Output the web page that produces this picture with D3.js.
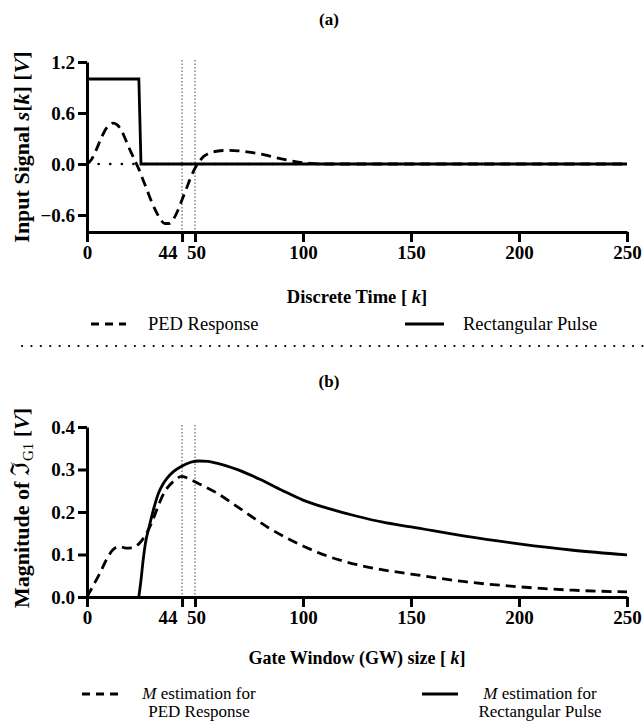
<!DOCTYPE html>
<html>
<head>
<meta charset="utf-8">
<script src="https://cdn.jsdelivr.net/npm/d3@7"></script>
<style>
  html, body { margin: 0; padding: 0; background: #fff; }
  svg { display: block; font-family: "Liberation Serif"; }
  svg text { font-family: "Liberation Serif"; }
</style>
</head>
<body>
<svg id="chart" width="644" height="723"></svg>
<script>
// ---------- data ----------
const xTicks = [0, 44, 50, 100, 150, 200, 250];
const yTicksA = [-0.6, 0.0, 0.6, 1.2];
const yTicksB = [0.0, 0.1, 0.2, 0.3, 0.4];
const markers = [44, 50];

// Panel (a): PED response
const pedK = [0, 2, 4, 6, 8, 10, 12, 14, 16, 18, 20, 22, 24, 26, 28, 30, 32, 34, 36, 38, 40, 42, 44, 46, 48, 50, 52, 54, 56, 60, 65, 70, 75, 80, 85, 90, 95, 100, 105, 110, 250];
const pedV = [0, 0.05, 0.15, 0.27, 0.38, 0.45, 0.48, 0.46, 0.39, 0.28, 0.16, 0.05, -0.06, -0.19, -0.32, -0.45, -0.56, -0.65, -0.70, -0.70, -0.65, -0.55, -0.42, -0.29, -0.16, -0.05, 0.03, 0.09, 0.12, 0.15, 0.16, 0.155, 0.14, 0.12, 0.09, 0.06, 0.035, 0.015, 0.005, 0, 0];
// Panel (a): rectangular pulse
const rectK = [0, 24, 25, 250];
const rectV = [1.0, 1.0, 0.0, 0.0];

// Panel (b): M estimation for PED response
const mPedK = [0, 3, 6, 9, 12, 15, 18, 21, 24, 27, 30, 33, 36, 40, 44, 48, 52, 60, 68, 76, 84, 92, 100, 112, 125, 137, 150, 175, 200, 225, 250];
const mPedV = [0, 0.028, 0.056, 0.088, 0.111, 0.119, 0.115, 0.116, 0.125, 0.145, 0.175, 0.215, 0.248, 0.272, 0.284, 0.276, 0.266, 0.245, 0.218, 0.19, 0.163, 0.14, 0.12, 0.095, 0.076, 0.064, 0.054, 0.036, 0.024, 0.016, 0.012];
// Panel (b): M estimation for rectangular pulse
const mRectK = [24, 25, 26, 27, 29, 31, 33, 35, 37, 40, 44, 48, 52, 56, 60, 70, 80, 90, 100, 112, 125, 137, 150, 175, 200, 225, 250];
const mRectV = [0, 0.04, 0.087, 0.125, 0.17, 0.21, 0.243, 0.264, 0.279, 0.295, 0.308, 0.317, 0.32, 0.319, 0.315, 0.299, 0.277, 0.252, 0.228, 0.208, 0.19, 0.176, 0.165, 0.143, 0.125, 0.11, 0.099];

// ---------- layout ----------
const FONT = "Liberation Serif";
const svg = d3.select("#chart").attr("font-family", FONT);
const left = 87, right = 627;
const x = d3.scaleLinear().domain([0, 250]).range([left, right]);
const yA = d3.scaleLinear().domain([-0.8, 1.2]).range([232, 62]);
const yB = d3.scaleLinear().domain([0, 0.4]).range([597, 427]);

function txt(parent, px, py, size, bold, anchor) {
  return parent.append("text").attr("x", px).attr("y", py)
    .attr("text-anchor", anchor || "start")
    .attr("font-family", FONT).style("font-family", FONT)
    .attr("font-size", size)
    .attr("font-weight", bold ? "bold" : "normal").attr("fill", "#000");
}

function styleAxis(g) {
  g.attr("font-family", FONT).attr("font-size", 19);
  g.selectAll(".domain").attr("stroke", "#000").attr("stroke-width", 3);
  g.selectAll(".tick line").attr("stroke", "#000").attr("stroke-width", 3);
  g.selectAll(".tick text")
    .attr("font-family", FONT).style("font-family", FONT)
    .attr("font-weight", "bold")
    .attr("font-size", 19)
    .attr("fill", "#000");
}

function drawPanel(y, yTicks, yFmt, xAxisY) {
  const gx = svg.append("g").attr("transform", `translate(0,${xAxisY})`)
    .call(d3.axisBottom(x).tickValues(xTicks).tickSize(10).tickSizeOuter(0).tickPadding(4).tickFormat(d3.format("d")));
  styleAxis(gx);
  gx.selectAll(".tick text").filter(d => d === 44).attr("text-anchor", "end").attr("dx", -5);
  gx.selectAll(".tick text").filter(d => d === 50).attr("dx", 1);
  const gy = svg.append("g").attr("transform", `translate(${left},0)`)
    .call(d3.axisLeft(y).tickValues(yTicks).tickSize(9).tickSizeOuter(0).tickPadding(3).tickFormat(yFmt));
  styleAxis(gy);
}

function vMarkers(y) {
  const top = y.range()[1] - 2, bottom = y.range()[0];
  svg.append("g").selectAll("line").data(markers).join("line")
    .attr("x1", d => x(d)).attr("x2", d => x(d))
    .attr("y1", top).attr("y2", bottom)
    .attr("stroke", "#444").attr("stroke-width", 1).attr("stroke-dasharray", "1.5,2");
}

function series(ks, vs, y, dashed, curve) {
  const pts = ks.map((k, i) => [k, vs[i]]);
  const line = d3.line().x(d => x(d[0])).y(d => y(d[1])).curve(curve);
  svg.append("path").datum(pts)
    .attr("d", line)
    .attr("fill", "none")
    .attr("stroke", "#000")
    .attr("stroke-width", 2.8)
    .attr("stroke-dasharray", dashed ? "10,6" : null);
}

function italic(t, s) { t.append("tspan").attr("font-style", "italic").text(s); }
function plain(t, s) { t.append("tspan").text(s); }

// ---------- panel (a) ----------
txt(svg, 329, 25, 17, true, "middle").text("(a)");

svg.append("line").attr("x1", x(0)).attr("x2", x(250)).attr("y1", yA(0)).attr("y2", yA(0))
  .attr("stroke", "#000").attr("stroke-width", 2.6).attr("stroke-linecap", "round")
  .attr("stroke-dasharray", "0.1,11.5");

vMarkers(yA);
series(pedK, pedV, yA, true, d3.curveMonotoneX);
series(rectK, rectV, yA, false, d3.curveLinear);
drawPanel(yA, yTicksA, d3.format(".1f"), 232);

const ta = txt(svg, 0, 0, 22, true, "middle").attr("transform", `translate(29,${(62 + 232) / 2}) rotate(-90)`);
plain(ta, "Input Signal "); italic(ta, "s"); plain(ta, "["); italic(ta, "k"); plain(ta, "] ["); italic(ta, "V"); plain(ta, "]");

const xa = txt(svg, 357, 303, 18.5, true, "middle");
plain(xa, "Discrete Time [ "); italic(xa, "k"); plain(xa, "]");

// legend (a)
svg.append("line").attr("x1", 91).attr("x2", 126).attr("y1", 324).attr("y2", 324)
  .attr("stroke", "#000").attr("stroke-width", 3).attr("stroke-dasharray", "8,6");
txt(svg, 148, 330, 18.5, false).text("PED Response");
svg.append("line").attr("x1", 405).attr("x2", 444).attr("y1", 324).attr("y2", 324)
  .attr("stroke", "#000").attr("stroke-width", 3);
txt(svg, 463, 330, 18.5, false).text("Rectangular Pulse");

// separator
svg.append("line").attr("x1", 22).attr("x2", 644).attr("y1", 346).attr("y2", 346)
  .attr("stroke", "#000").attr("stroke-width", 2.2).attr("stroke-linecap", "round")
  .attr("stroke-dasharray", "0.1,9.3");

// ---------- panel (b) ----------
txt(svg, 329, 387, 17, true, "middle").text("(b)");

vMarkers(yB);
series(mPedK, mPedV, yB, true, d3.curveMonotoneX);
series(mRectK, mRectV, yB, false, d3.curveMonotoneX);
drawPanel(yB, yTicksB, d3.format(".1f"), 597);

const tb = txt(svg, 0, 0, 22, true, "middle").attr("transform", `translate(29,${(427 + 597) / 2 - 4}) rotate(-90)`);
plain(tb, "Magnitude of ");
tb.append("tspan").style("font-family", "DejaVu Serif").attr("font-weight", "normal").attr("font-size", 26).text("\u2111");
tb.append("tspan").attr("font-weight", "normal").attr("font-size", 15).attr("dy", 4).text("G1");
tb.append("tspan").attr("dy", -4).text(" [");
italic(tb, "V"); plain(tb, "]");

const xb = txt(svg, 357, 664, 18, true, "middle");
plain(xb, "Gate Window (GW) size [ "); italic(xb, "k"); plain(xb, "]");

// legend (b)
svg.append("line").attr("x1", 82).attr("x2", 120).attr("y1", 694).attr("y2", 694)
  .attr("stroke", "#000").attr("stroke-width", 3).attr("stroke-dasharray", "8,6");
const l1 = txt(svg, 199, 699, 17, false, "middle");
italic(l1, "M"); plain(l1, " estimation for");
txt(svg, 199, 717, 17, false, "middle").text("PED Response");

svg.append("line").attr("x1", 422).attr("x2", 458).attr("y1", 694).attr("y2", 694)
  .attr("stroke", "#000").attr("stroke-width", 3);
const l2 = txt(svg, 540, 699, 17, false, "middle");
italic(l2, "M"); plain(l2, " estimation for");
txt(svg, 540, 717, 17, false, "middle").text("Rectangular Pulse");
</script>
</body>
</html>
